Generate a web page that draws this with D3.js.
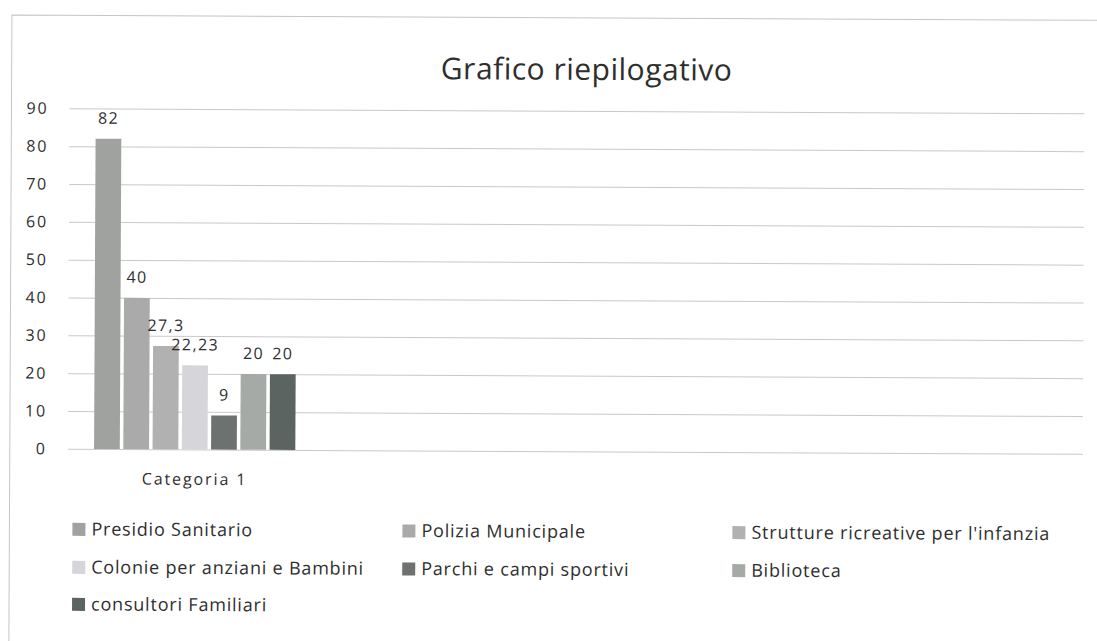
<!DOCTYPE html>
<html>
<head>
<meta charset="utf-8">
<script src="https://cdn.jsdelivr.net/npm/d3@7"></script>
<style>
  html, body { margin: 0; padding: 0; background: #ffffff; }
  svg { display: block; }
  text { font-family: "Open Sans", "Noto Sans", sans-serif; fill: #2e2e2e; font-weight: 500; }
</style>
</head>
<body>
<svg id="chart" width="1097" height="641"></svg>
<script>
// ---- data ----
const chartTitle = "Grafico riepilogativo";
const categories = ["Categoria 1", "Categoria 2", "Categoria 3", "Categoria 4"];
const categoryLabels = ["Categoria 1", "", "", ""];
const seriesNames = [
  "Presidio Sanitario",
  "Polizia Municipale",
  "Strutture ricreative per l'infanzia",
  "Colonie per anziani e Bambini",
  "Parchi e campi sportivi",
  "Biblioteca",
  "consultori Familiari"
];
// values for "Categoria 1" (other categories are empty)
const seriesValues = [82, 40, 27.3, 22.23, 9, 20, 20];
const yTicks = [0, 10, 20, 30, 40, 50, 60, 70, 80, 90];
const seriesColors = ["#a0a2a0", "#a9aaa9", "#b1b1b1", "#d6d6da", "#6d7270", "#a6aaa7", "#5c6461"];

// ---- layout ----
const svg = d3.select("#chart");
const root = svg.append("g").attr("transform", "rotate(0.28)");

const plot = { left: 70, right: 1085, top: 108, bottom: 448.5 };
const it = d3.formatLocale({ decimal: ",", thousands: ".", grouping: [3], currency: ["€", ""] });
const fmt = it.format("~f");

// chart frame (top + left edges visible)
root.append("path")
  .attr("d", "M12,641V15H1100")
  .attr("fill", "none").attr("stroke", "#c4c4c4").attr("stroke-width", 1);

const y = d3.scaleLinear().domain([0, 90]).range([plot.bottom, plot.top]);
const x0 = d3.scaleBand().domain(categories).range([plot.left, plot.right])
  .paddingInner(0.2).paddingOuter(0.1);
const x1 = d3.scaleBand().domain(seriesNames).range([0, x0.bandwidth()])
  .paddingInner(0.12).paddingOuter(0.03);

// y axis with gridlines
const yAxis = root.append("g")
  .attr("transform", `translate(${plot.left},0)`)
  .call(d3.axisLeft(y).tickValues(yTicks).tickSize(-(plot.right - plot.left)).tickPadding(21));
yAxis.select(".domain").remove();
yAxis.selectAll(".tick line").attr("stroke", "#c9c9c9").attr("stroke-width", 1);
yAxis.selectAll(".tick text")
  .style("font-size", "16px").style("letter-spacing", "1.8px").attr("fill", "#2e2e2e");

// x axis (category labels)
const xAxis = root.append("g")
  .attr("transform", `translate(0,${plot.bottom})`)
  .call(d3.axisBottom(x0).tickSize(0).tickPadding(24).tickFormat((d, i) => categoryLabels[i]));
xAxis.select(".domain").remove();
xAxis.selectAll(".tick text")
  .style("font-size", "16px").style("letter-spacing", "1.9px").attr("fill", "#2e2e2e");

// bars
const cat = categories[0];
const bars = root.append("g");
bars.selectAll("rect")
  .data(seriesValues)
  .join("rect")
  .attr("x", (d, i) => x0(cat) + x1(seriesNames[i]))
  .attr("y", d => y(d))
  .attr("width", x1.bandwidth())
  .attr("height", d => y(0) - y(d))
  .attr("fill", (d, i) => seriesColors[i]);

// data labels
root.append("g").selectAll("text")
  .data(seriesValues)
  .join("text")
  .attr("x", (d, i) => x0(cat) + x1(seriesNames[i]) + x1.bandwidth() / 2)
  .attr("y", d => y(d) - 15)
  .attr("text-anchor", "middle")
  .style("font-size", "16px").style("letter-spacing", "1.4px")
  .text(d => fmt(d));

// title
root.append("text")
  .attr("x", 587).attr("y", 77)
  .attr("text-anchor", "middle")
  .style("font-size", "30px").style("letter-spacing", "0.5px").style("font-weight", "400")
  .attr("fill", "#333333")
  .text(chartTitle);

// legend
const legCols = 3, colX = [75, 405, 735], rowY = [529, 567, 604];
const leg = root.append("g").selectAll("g")
  .data(seriesNames)
  .join("g")
  .attr("transform", (d, i) => `translate(${colX[i % legCols]},${rowY[Math.floor(i / legCols)]})`);
leg.append("rect")
  .attr("x", 0).attr("y", -6.5).attr("width", 13).attr("height", 13)
  .attr("fill", (d, i) => seriesColors[i]);
leg.append("text")
  .attr("x", 19).attr("y", 6)
  .style("font-size", "18px").style("letter-spacing", "0.8px")
  .text(d => d);
</script>
</body>
</html>
